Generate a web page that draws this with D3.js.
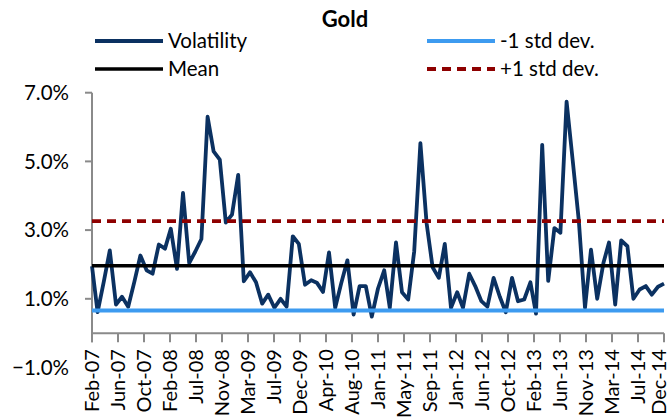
<!DOCTYPE html>
<html>
<head>
<meta charset="utf-8">
<script src="https://cdn.jsdelivr.net/npm/d3@7"></script>
<style>
  html, body { margin: 0; padding: 0; background: #fff; }
  svg { display: block; }
  text { font-family: Lato, "Open Sans", sans-serif; fill: #000; }
</style>
</head>
<body>
<svg id="chart" width="670" height="418"></svg>
<script>
// Monthly gold volatility (%), Feb-2007 through Dec-2014
const firstMonth = new Date(2007, 1, 1);
const volatility = [
  1.95, 0.61, 1.50, 2.41, 0.83, 1.06, 0.77, 1.50, 2.26, 1.83, 1.73,
  2.58, 2.46, 3.04, 1.87, 4.08, 2.04, 2.37, 2.74, 6.30, 5.29, 5.05, 3.22,
  3.45, 4.61, 1.51, 1.77, 1.48, 0.86, 1.12, 0.74, 1.00, 0.77, 2.82, 2.60,
  1.41, 1.54, 1.47, 1.20, 2.35, 0.74, 1.45, 2.12, 0.54, 1.37, 1.37, 0.48,
  1.30, 1.83, 0.74, 2.64, 1.19, 0.98, 2.38, 5.53, 3.20, 1.92, 1.61, 2.60,
  0.74, 1.19, 0.74, 1.73, 1.37, 0.93, 0.77, 1.61, 1.06, 0.61, 1.61, 0.93,
  0.98, 1.48, 0.57, 5.48, 1.52, 3.06, 2.92, 6.74, 5.00, 3.28, 0.74, 2.43,
  1.00, 2.04, 2.64, 0.83, 2.70, 2.53, 1.00, 1.27, 1.37, 1.12, 1.35, 1.44
];
const meanValue = 1.96;
const stdValue = 1.30;

// Date-axis labels, one every 130 days from the first month
const tickStepDays = 130;
const tickLabels = [
  "Feb-07","Jun-07","Oct-07","Feb-08","Jul-08","Nov-08","Mar-09","Jul-09",
  "Dec-09","Apr-10","Aug-10","Jan-11","May-11","Sep-11","Jan-12","Jun-12",
  "Oct-12","Feb-13","Jun-13","Nov-13","Mar-14","Jul-14","Dec-14"
];
const yTickValues = [-1, 1, 3, 5, 7];

const series = [
  { name: "Volatility",  color: "#0b3161", width: 3.8, dash: null },
  { name: "-1 std dev.", color: "#3d9bf0", width: 3.8, dash: null },
  { name: "Mean",        color: "#000000", width: 3.4, dash: null },
  { name: "+1 std dev.", color: "#8e0000", width: 3.8, dash: "9,6" }
];

const data = volatility.map((v, i) => ({ date: d3.timeMonth.offset(firstMonth, i), value: v }));
const lastMonth = data[data.length - 1].date;

const svg = d3.select("#chart");
const axisColor = "#8a8a8a";
const fontSize = "20.5px";

const x = d3.scaleTime().domain([firstMonth, lastMonth]).range([92, 664]);
const y = d3.scaleLinear().domain([-1, 7]).range([367.5, 92.7]);
const y0 = y(0);

// Title
svg.append("text")
  .attr("x", 345).attr("y", 27)
  .attr("text-anchor", "middle")
  .style("font-size", "22px").style("font-weight", "bold")
  .text("Gold");

// Legend (two columns)
const legendPos = [
  { s: series[0], x: 95,  y: 41 },
  { s: series[1], x: 427, y: 41 },
  { s: series[2], x: 95,  y: 69 },
  { s: series[3], x: 427, y: 69 }
];
const lg = svg.append("g");
legendPos.forEach(p => {
  lg.append("line")
    .attr("x1", p.x).attr("x2", p.x + 68)
    .attr("y1", p.y).attr("y2", p.y)
    .attr("stroke", p.s.color).attr("stroke-width", p.s.width)
    .attr("stroke-dasharray", p.s.dash);
  lg.append("text")
    .attr("x", p.x + 73).attr("y", p.y)
    .attr("dy", "0.35em")
    .style("font-size", fontSize)
    .text(p.s.name);
});

// Y axis: line, ticks, labels
svg.append("line")
  .attr("x1", 92).attr("x2", 92)
  .attr("y1", y(7)).attr("y2", y0 + 9)
  .attr("stroke", axisColor).attr("stroke-width", 2);
svg.selectAll(".ytick").data(yTickValues.filter(v => v >= 0)).join("line")
  .attr("x1", 85).attr("x2", 92)
  .attr("y1", d => y(d)).attr("y2", d => y(d))
  .attr("stroke", axisColor).attr("stroke-width", 2);
svg.selectAll(".ylabel").data(yTickValues).join("text")
  .attr("x", 69).attr("y", d => y(d))
  .attr("dy", "0.35em")
  .attr("text-anchor", "end")
  .style("font-size", fontSize)
  .text(d => d3.format(".1f")(d) + "%");

// X axis at zero
const tickDates = tickLabels.map((_, i) => d3.timeDay.offset(firstMonth, i * tickStepDays));
svg.append("line")
  .attr("x1", x(firstMonth)).attr("x2", x(lastMonth))
  .attr("y1", y0).attr("y2", y0)
  .attr("stroke", axisColor).attr("stroke-width", 2);
svg.selectAll(".xtick").data(tickDates).join("line")
  .attr("x1", d => x(d)).attr("x2", d => x(d))
  .attr("y1", y0).attr("y2", y0 + 9)
  .attr("stroke", axisColor).attr("stroke-width", 2);
svg.selectAll(".xlabel").data(tickLabels).join("text")
  .attr("transform", (d, i) => `translate(${Math.min(x(tickDates[i]), 659)},${y0 + 16}) rotate(-90)`)
  .attr("dy", "0.35em")
  .attr("text-anchor", "end")
  .style("font-size", "20px")
  .text(d => d);

// Volatility line
const line = d3.line().x(d => x(d.date)).y(d => y(d.value));
svg.append("path")
  .datum(data)
  .attr("fill", "none")
  .attr("stroke", series[0].color)
  .attr("stroke-width", series[0].width)
  .attr("stroke-linejoin", "round")
  .attr("d", line);

// Reference levels: -1 std, mean, +1 std
const levels = [
  { s: series[1], v: meanValue - stdValue },
  { s: series[2], v: meanValue },
  { s: series[3], v: meanValue + stdValue }
];
levels.forEach(l => {
  svg.append("path")
    .datum(data.map(d => ({ date: d.date, value: l.v })))
    .attr("fill", "none")
    .attr("stroke", l.s.color)
    .attr("stroke-width", l.s.width)
    .attr("stroke-dasharray", l.s.dash)
    .attr("d", line);
});
</script>
</body>
</html>
